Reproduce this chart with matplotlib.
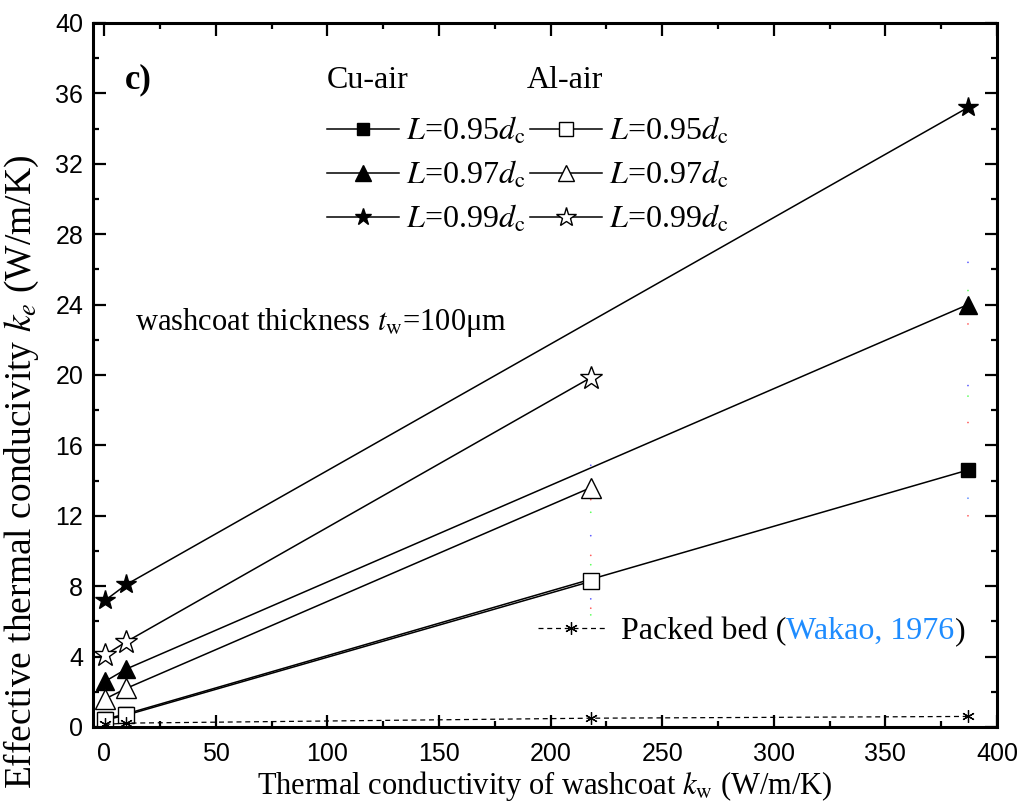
import matplotlib
matplotlib.use("Agg")
import matplotlib.pyplot as plt
from matplotlib.ticker import MultipleLocator

# ---------------- data ----------------
kw_cu = [0.5, 10, 387]
kw_al = [0.5, 10, 218]
cu_095 = [0.45, 0.75, 14.6]
cu_097 = [2.6, 3.3, 24.0]
cu_099 = [7.2, 8.1, 35.2]
al_095 = [0.4, 0.68, 8.27]
al_097 = [1.6, 2.2, 13.6]
al_099 = [4.1, 4.85, 19.85]
kw_packed = [0.5, 10, 218, 387]
packed = [0.15, 0.22, 0.5, 0.6]

# stray coloured dots seen in the figure (x, y, colour)
dots_x = [218] * 9 + [387] * 8
dots_y = [14.87, 12.92, 12.2, 10.87, 9.75, 9.22, 7.28, 6.75, 6.37,
          26.4, 24.8, 22.9, 19.4, 18.8, 17.3, 13.0, 12.0]
dots_c = ['#5a5aff', '#ff5a5a', '#5aff5a', '#5a5aff', '#ff5a5a', '#5aff5a', '#5a5aff', '#ff5a5a', '#5aff5a',
          '#5a5aff', '#5aff5a', '#ff5a5a', '#5a5aff', '#5aff5a', '#ff5a5a', '#5a8aff', '#ff5a5a']

labels = ['$L$=0.95$d_{\\rm c}$', '$L$=0.97$d_{\\rm c}$', '$L$=0.99$d_{\\rm c}$']
xticks = [0, 50, 100, 150, 200, 250, 300, 350, 400]
yticks = [0, 4, 8, 12, 16, 20, 24, 28, 32, 36, 40]

plt.rcParams['font.family'] = ['Liberation Serif', 'DejaVu Serif']
plt.rcParams['mathtext.fontset'] = 'stix'

fig = plt.figure(figsize=(10.22, 8.08), dpi=100)
ax = fig.add_axes([93/1022, 1-727/808, 904/1022, 704/808])

lw = 1.1
# Cu-air (filled)
h_cu = []
h_cu.append(ax.plot(kw_cu, cu_095, '-', color='k', lw=lw, marker='s', ms=10.5, mfc='k', mec='k')[0])
h_cu.append(ax.plot(kw_cu, cu_097, '-', color='k', lw=lw, marker='^', ms=13, mfc='k', mec='k')[0])
h_cu.append(ax.plot(kw_cu, cu_099, '-', color='k', lw=lw, marker='*', ms=15, mfc='k', mec='k')[0])
# Al-air (open)
h_al = []
h_al.append(ax.plot(kw_al, al_095, '-', color='k', lw=lw, marker='s', ms=11.5, mfc='white', mec='k', mew=1.0)[0])
h_al.append(ax.plot(kw_al, al_097, '-', color='k', lw=lw, marker='^', ms=14, mfc='white', mec='k', mew=1.0)[0])
h_al.append(ax.plot(kw_al, al_099, '-', color='k', lw=lw, marker='*', ms=17, mfc='white', mec='k', mew=1.0)[0])
# packed bed
h_pb, = ax.plot(kw_packed, packed, '--', color='k', lw=0.9, dashes=(4, 3), marker=(6, 2, 0), ms=9, mew=0.9)

ax.scatter(dots_x, dots_y, s=1.5, c=dots_c, linewidths=0, zorder=1)

ax.set_xlim(-5, 400)
ax.set_ylim(0, 40)
ax.set_xticks(xticks)
ax.set_yticks(yticks)
ax.xaxis.set_minor_locator(MultipleLocator(25))
ax.yaxis.set_minor_locator(MultipleLocator(2))
ax.tick_params(which='both', direction='in', top=True, right=True, width=1.6)
ax.tick_params(which='major', length=9)
ax.tick_params(which='minor', length=4.5)
ax.tick_params(axis='x', pad=11)
ax.tick_params(axis='y', pad=7)
for lab in ax.get_xticklabels() + ax.get_yticklabels():
    lab.set_fontfamily('Liberation Sans')
    lab.set_fontsize(18)
for sp in ax.spines.values():
    sp.set_linewidth(2.2)

ax.set_xlabel('Thermal conductivity of washcoat $k_{\\rm w}$ (W/m/K)', fontsize=22)
ax.set_ylabel('Effective thermal conducivity $k_e$ (W/m/K)', fontsize=27)
ax.xaxis.set_label_coords(0.5, -0.059)
ax.yaxis.set_label_coords(-0.058, 0.362)

# legend (two columns)
leg = ax.legend(h_cu + h_al, labels + labels, ncol=2, frameon=False,
                loc='upper left', bbox_to_anchor=(0.259, 0.868), borderpad=0, borderaxespad=0,
                fontsize=23, handlelength=2.25, handletextpad=0.22, columnspacing=0.14,
                labelspacing=0.4, markerscale=0.85)
ax.add_artist(leg)
ax.text(0.259, 0.918, 'Cu-air', transform=ax.transAxes, fontsize=23, ha='left', va='center')
ax.text(0.48, 0.918, 'Al-air', transform=ax.transAxes, fontsize=23, ha='left', va='center')

# packed bed legend with coloured citation
leg2 = ax.legend([h_pb], ['Packed bed ('], frameon=False, loc='center left',
                 bbox_to_anchor=(0.492, 0.136), borderpad=0, borderaxespad=0,
                 fontsize=23, handlelength=2.1, handletextpad=0.5)
leg2.set_zorder(4)
t1 = leg2.get_texts()[0]
t2 = ax.annotate('Wakao, 1976', xy=(1, 0), xycoords=t1, va='bottom', ha='left',
                 fontsize=23, color='#1E8CFF', zorder=8)
ax.annotate(')', xy=(1, 0), xycoords=t2, va='bottom', ha='left', fontsize=23, color='k', zorder=9)

ax.text(9.4, 36.8, 'c)', fontsize=25, fontweight='bold', ha='left', va='center')
ax.text(14, 23.0, 'washcoat thickness $t_{\\rm w}$=100μm', fontsize=22, ha='left', va='center')

fig.savefig('out.png', dpi=100)
